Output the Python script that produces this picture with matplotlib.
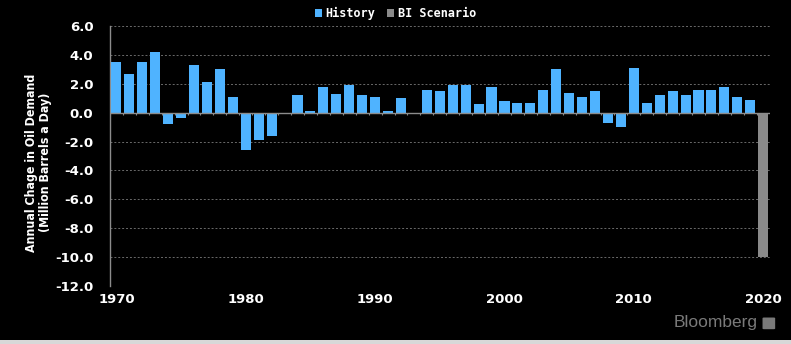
import numpy as np
import matplotlib.pyplot as plt
from matplotlib.patches import Rectangle, FancyBboxPatch

# annual change in global oil demand, million barrels a day
years = list(range(1970, 2020))
history = [3.5, 2.7, 3.5, 4.2, -0.8, -0.4, 3.3, 2.1, 3.0, 1.1,
           -2.6, -1.9, -1.6, -0.1, 1.2, 0.1, 1.8, 1.3, 1.9, 1.2,
           1.1, 0.1, 1.0, -0.1, 1.6, 1.5, 1.9, 1.9, 0.6, 1.8,
           0.8, 0.7, 0.7, 1.6, 3.0, 1.4, 1.1, 1.5, -0.7, -1.0,
           3.1, 0.7, 1.2, 1.5, 1.2, 1.6, 1.6, 1.8, 1.1, 0.9]
scenario_years = [2020]
scenario = [-10.0]

yticks = [6, 4, 2, 0, -2, -4, -6, -8, -10, -12]
xticks = [1970, 1980, 1990, 2000, 2010, 2020]

blue = "#4fb3ff"
grey = "#8a8a8a"

fig = plt.figure(figsize=(7.91, 3.44), dpi=100, facecolor="black")
ax = fig.add_axes([0.139, 0.169, 0.834, 0.755], facecolor="black")

ax.bar(years, history, width=0.78, color=blue, label="History", zorder=3)
ax.bar(scenario_years, scenario, width=0.78, color=grey, label="BI Scenario", zorder=3)

ax.set_xlim(1969.5, 2020.5)
ax.set_ylim(-12, 6)
ax.set_yticks(yticks)
ax.set_yticklabels([f"{v:.1f}" for v in yticks])
ax.set_xticks(xticks)

# horizontal dotted grid and zero line with small year ticks
ax.grid(axis="y", color="#6a6a6a", linestyle=(0, (2, 2)), linewidth=0.7, zorder=0)
ax.axhline(0, color="#8c8c8c", linewidth=1.0, zorder=4)
ax.vlines(np.array(years) + 0.5, -0.15, 0, color="#8c8c8c", linewidth=0.8, zorder=4)

for side in ["top", "right", "bottom"]:
    ax.spines[side].set_visible(False)
ax.spines["left"].set_color("#8c8c8c")
ax.spines["left"].set_linewidth(1.0)

ax.tick_params(axis="both", length=0, colors="white", labelsize=9.5)
ax.tick_params(axis="y", pad=12)
ax.tick_params(axis="x", pad=5)
for lbl in ax.get_xticklabels() + ax.get_yticklabels():
    lbl.set_fontweight("bold")

ax.set_ylabel("Annual Chage in Oil Demand\n(Million Barrels a Day)",
              color="white", fontsize=8.9, fontweight="bold", linespacing=1.05,
              fontstretch="condensed",
              family=["Liberation Sans Narrow", "DejaVu Sans"])
ax.yaxis.set_label_coords(-0.088, 0.475)

leg = fig.legend(loc="upper center", bbox_to_anchor=(0.5, 1.01), ncol=2,
                 frameon=False, handlelength=0.6, handleheight=0.6,
                 handletextpad=0.3, columnspacing=1.0,
                 prop={"family": "DejaVu Sans Mono", "weight": "bold", "size": 8.5})
for t in leg.get_texts():
    t.set_color("white")

fig.text(0.958, 0.062, "Bloomberg", color="#7a7a7a", fontsize=12.5,
         ha="right", va="center", family=["Liberation Sans", "DejaVu Sans"])
fig.patches.append(FancyBboxPatch((0.966, 0.045), 0.012, 0.03,
                                  boxstyle="round,pad=0.002", transform=fig.transFigure,
                                  facecolor="#7a7a7a", edgecolor="none"))
fig.patches.append(Rectangle((0, 0), 1, 0.012, transform=fig.transFigure,
                             facecolor="#d8d8d8", edgecolor="none"))

fig.savefig("out.png", dpi=100, facecolor="black")
